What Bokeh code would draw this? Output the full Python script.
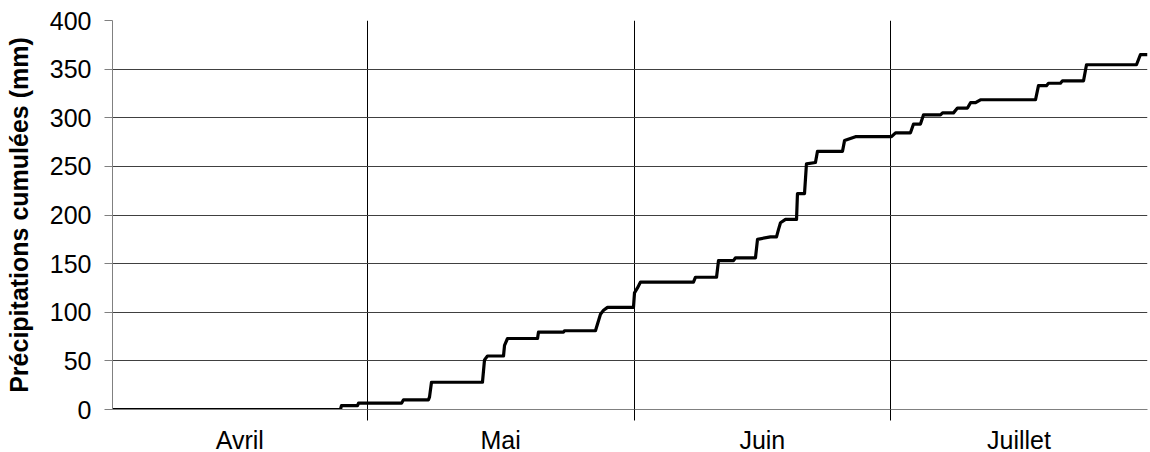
from bokeh.plotting import figure
from bokeh.models import FixedTicker, Range1d
from bokeh.embed import file_html
from bokeh.resources import INLINE

# Month boundaries (day index along the season) and names
month_edges = [0, 30, 61.5, 91.7, 122]
month_names = ["Avril", "Mai", "Juin", "Juillet"]

# Cumulative precipitation (mm) vs day index
jour = [0, 26.87, 26.99, 28.88, 29.00, 34.07, 34.30, 37.25, 37.37, 37.60,
        43.61, 43.85, 44.20, 46.09, 46.21, 46.56, 50.10, 50.21, 53.16, 53.28,
        56.93, 57.17, 57.52, 57.88, 58.35, 61.41, 61.53, 61.88, 62.24, 68.48,
        68.72, 71.20, 71.43, 73.20, 73.44, 75.79, 76.03, 77.56, 78.27, 78.50,
        78.74, 79.33, 80.63, 80.74, 81.57, 81.69, 81.80, 82.86, 83.10, 86.05,
        86.29, 87.58, 91.82, 92.30, 94.06, 94.42, 95.24, 95.60, 97.60, 97.84,
        99.13, 99.60, 100.78, 101.14, 101.73, 102.31, 108.80, 109.15, 110.09, 110.33,
        111.74, 111.98, 114.46, 114.81, 120.70, 121.17, 122.00]
cumul = [0, 0, 4, 4, 6.5, 6.5, 10, 10, 13, 28,
         28, 51, 55, 55, 66, 73, 73, 79.5, 79.5, 81,
         81, 88, 98, 102, 105, 105, 120, 125, 131, 131,
         136, 136, 153, 153, 156, 156, 175, 177.5, 177.5, 185,
         192, 195.5, 195.5, 222, 222, 238, 252.5, 254, 265.5, 265.5,
         276.5, 280.5, 280.5, 284.5, 284.5, 293.5, 293.5, 303, 303, 305,
         305, 310, 310, 315.5, 315.5, 318.5, 318.5, 333, 333, 335.5,
         335.5, 338, 338, 354.5, 354.5, 365, 365]

y_ticks = [0, 50, 100, 150, 200, 250, 300, 350, 400]

FONT = "Liberation Sans"

p = figure(width=1150, height=452, output_backend="svg", toolbar_location=None,
           frame_width=1035, frame_height=389,
           min_border_left=112, min_border_top=20, min_border_right=3, min_border_bottom=43,
           x_range=Range1d(month_edges[0], month_edges[-1]),
           y_range=Range1d(0, 400))
p.outline_line_color = None
p.background_fill_color = "white"

centers = [(month_edges[i] + month_edges[i + 1]) / 2 for i in range(len(month_names))]
inner_edges = month_edges[1:-1]

# X axis: labels at month centers, boundary marks as minor ticks
p.xaxis.ticker = FixedTicker(ticks=centers, minor_ticks=inner_edges)
p.xaxis.major_label_overrides = {c: n for c, n in zip(centers, month_names)}
p.xaxis.major_tick_line_color = None
p.xaxis.major_tick_out = 0
p.xaxis.major_tick_in = 0
p.xaxis.minor_tick_line_color = "black"
p.xaxis.minor_tick_out = 11
p.xaxis.minor_tick_in = 0
p.xaxis.axis_line_color = "#808080"
p.xaxis.major_label_text_font = FONT
p.xaxis.major_label_text_font_size = "25px"
p.xaxis.major_label_text_color = "black"
p.xaxis.major_label_standoff = 5

p.xgrid.ticker = FixedTicker(ticks=inner_edges)
p.xgrid.grid_line_color = "black"
p.xgrid.grid_line_width = 1

# Y axis
p.yaxis.ticker = FixedTicker(ticks=y_ticks)
p.yaxis.axis_label = "Précipitations cumulées (mm)"
p.yaxis.axis_label_text_font = FONT
p.yaxis.axis_label_text_font_style = "bold"
p.yaxis.axis_label_text_font_size = "25px"
p.yaxis.axis_label_text_color = "black"
p.yaxis.axis_label_standoff = 14
p.yaxis.major_label_text_font = FONT
p.yaxis.major_label_text_font_size = "25px"
p.yaxis.major_label_text_color = "black"
p.yaxis.major_label_standoff = 13
p.yaxis.major_tick_out = 8
p.yaxis.major_tick_in = 0
p.yaxis.major_tick_line_color = "#808080"
p.yaxis.minor_tick_line_color = None
p.yaxis.axis_line_color = "#808080"

p.ygrid.grid_line_color = "#404040"
p.ygrid.grid_line_width = 1

p.line(jour, cumul, line_color="black", line_width=3.2, line_join="round")

open("out.html", "w").write(file_html(p, INLINE))
